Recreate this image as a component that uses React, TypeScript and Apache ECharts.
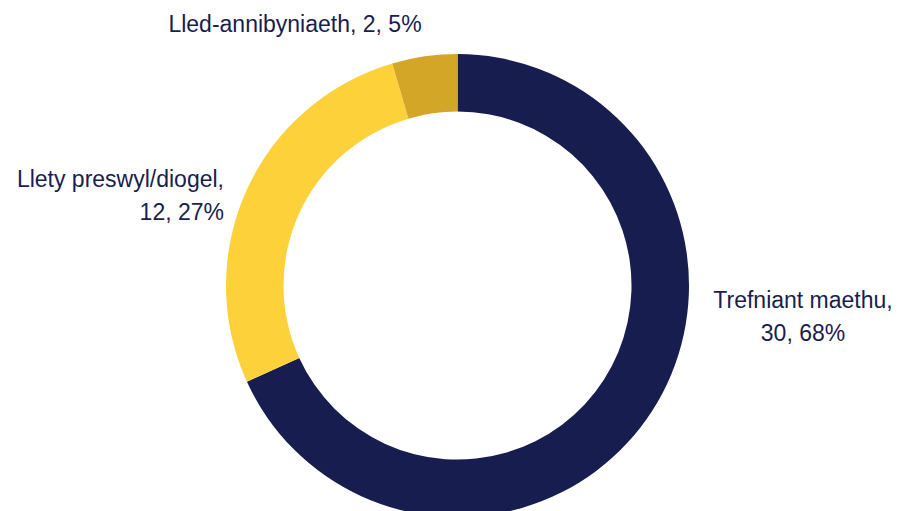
import React, { useEffect, useRef } from "react";
import * as echarts from "echarts";

const categories = ["Trefniant maethu", "Llety preswyl/diogel", "Lled-annibyniaeth"];
const values = [30, 12, 2];
const colors = ["#181D4F", "#FDD13A", "#D4A628"];
const labelBreaks = [true, true, false];
const labelAligns = ["center", "right", "center"];

export default function App() {
  const ref = useRef<HTMLDivElement>(null);
  useEffect(() => {
    if (!ref.current) return;
    const chart = echarts.init(ref.current, null, { renderer: "svg" });
    const labelPos = [
      { x: 803, y: 316 },
      { x: 224, y: 195 },
      { x: 295, y: 24 },
    ];
    chart.setOption({
      animation: false,
      backgroundColor: "#ffffff",
      series: [
        {
          type: "pie",
          center: [457.5, 285.6],
          radius: [174, 231.5],
          startAngle: 90,
          clockwise: true,
          avoidLabelOverlap: false,
          data: categories.map((name, i) => ({
            name,
            value: values[i],
            itemStyle: { color: colors[i] },
            label: { align: labelAligns[i] },
          })),
          label: {
            show: true,
            position: "outside",
            fontFamily: "'Liberation Sans', Arial, sans-serif",
            fontSize: 23,
            lineHeight: 33,
            color: "#191D4F",
            formatter: (p: any) =>
              `${p.name},${labelBreaks[p.dataIndex] ? "\n" : " "}${p.value}, ${Math.round(p.percent)}%`,
          },
          labelLine: { show: false },
          labelLayout: (params: any) => ({
            x: labelPos[params.dataIndex].x,
            y: labelPos[params.dataIndex].y,
            align: labelAligns[params.dataIndex],
            verticalAlign: "middle",
          }),
          emphasis: { disabled: true },
        },
      ],
    });
    return () => chart.dispose();
  }, []);
  return (
    <div
      ref={ref}
      style={{ position: "fixed", left: 0, top: 0, width: 900, height: 511 }}
    />
  );
}
